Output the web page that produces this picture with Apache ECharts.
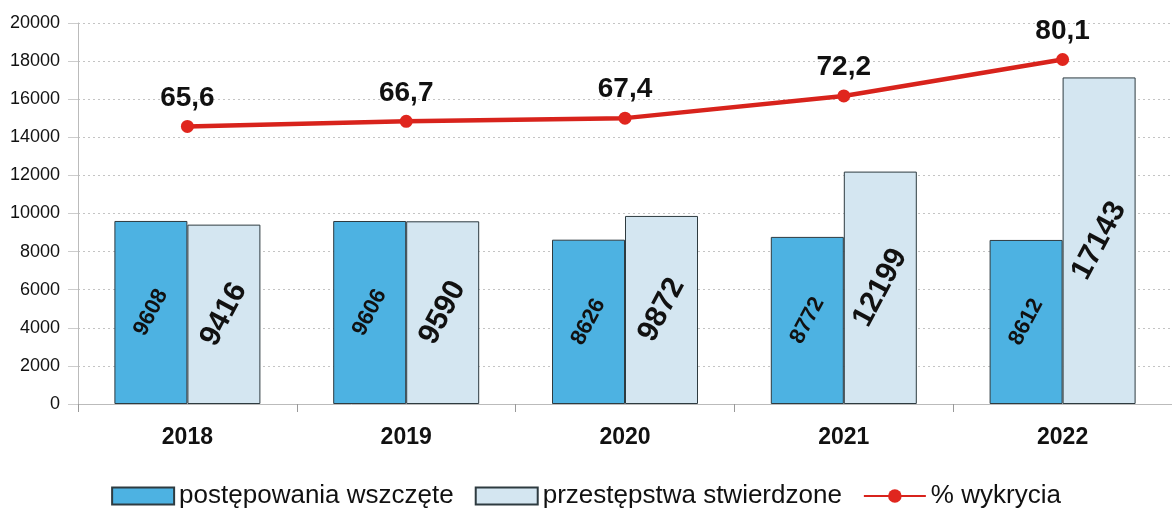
<!DOCTYPE html>
<html>
<head>
<meta charset="utf-8">
<script src="https://cdn.jsdelivr.net/npm/echarts@6/dist/echarts.min.js"></script>
<style>
  html, body { margin: 0; padding: 0; background: #fff; }
  #main { width: 1172px; height: 512px; }
</style>
</head>
<body>
<div id="main"></div>
<script>
const years = ['2018', '2019', '2020', '2021', '2022'];
const wszczete = [9608, 9606, 8626, 8772, 8612];
const stwierdzone = [9416, 9590, 9872, 12199, 17143];
const wykrycia = [65.6, 66.7, 67.4, 72.2, 80.1];

const font = 'Liberation Sans, Arial, sans-serif';
const chart = echarts.init(document.getElementById('main'));

chart.setOption({
  animation: false,
  textStyle: { fontFamily: font },
  grid: { left: 78, top: 23, bottom: 108, right: -5 },
  legend: {
    bottom: -2,
    left: 'center',
    itemWidth: 62,
    itemHeight: 17,
    itemGap: 21,
    textStyle: { fontSize: 26, color: '#111', fontFamily: font },
    data: [
      { name: 'postępowania wszczęte', icon: 'rect' },
      { name: 'przestępstwa stwierdzone', icon: 'rect' },
      { name: '% wykrycia' }
    ]
  },
  xAxis: {
    type: 'category',
    data: years,
    axisLine: { lineStyle: { color: '#bbb' } },
    axisTick: { show: true, length: 8, lineStyle: { color: '#999' } },
    axisLabel: { fontSize: 23, fontWeight: 'bold', color: '#111', margin: 22 }
  },
  yAxis: [
    {
      type: 'value',
      min: 0,
      max: 20000,
      interval: 2000,
      axisLine: { show: true, lineStyle: { color: '#bbb' } },
      axisTick: { show: true, length: 10, lineStyle: { color: '#ccc' } },
      axisLabel: { fontSize: 18, color: '#111', margin: 18, formatter: v => String(v) },
      splitLine: { lineStyle: { color: '#c4c4c4', type: [2, 3], width: 1 } }
    },
    {
      type: 'value',
      min: 5.5,
      max: 88,
      show: false,
      splitLine: { show: false }
    }
  ],
  series: [
    {
      name: 'postępowania wszczęte',
      type: 'bar',
      data: wszczete,
      barWidth: 73,
      barGap: '0%',
      itemStyle: { color: '#4db2e2', borderColor: '#2e3b40', borderWidth: 1 },
      label: {
        show: true,
        position: 'inside',
        rotate: 62,
        fontSize: 22,
        fontWeight: 'bold',
        color: '#111'
      }
    },
    {
      name: 'przestępstwa stwierdzone',
      type: 'bar',
      data: stwierdzone,
      barWidth: 73,
      barGap: '0%',
      itemStyle: { color: '#d4e6f1', borderColor: '#2e3b40', borderWidth: 1 },
      label: {
        show: true,
        position: 'inside',
        rotate: 62,
        fontSize: 30,
        fontWeight: 'bold',
        color: '#111'
      }
    },
    {
      name: '% wykrycia',
      type: 'line',
      yAxisIndex: 1,
      data: wykrycia,
      symbol: 'circle',
      symbolSize: 13,
      lineStyle: { color: '#d8231c', width: 4.5 },
      itemStyle: { color: '#e0261e' },
      label: {
        show: true,
        position: 'top',
        distance: 8,
        fontSize: 28,
        fontWeight: 'bold',
        color: '#111',
        formatter: p => String(p.value).replace('.', ',')
      }
    }
  ]
});
</script>
</body>
</html>
